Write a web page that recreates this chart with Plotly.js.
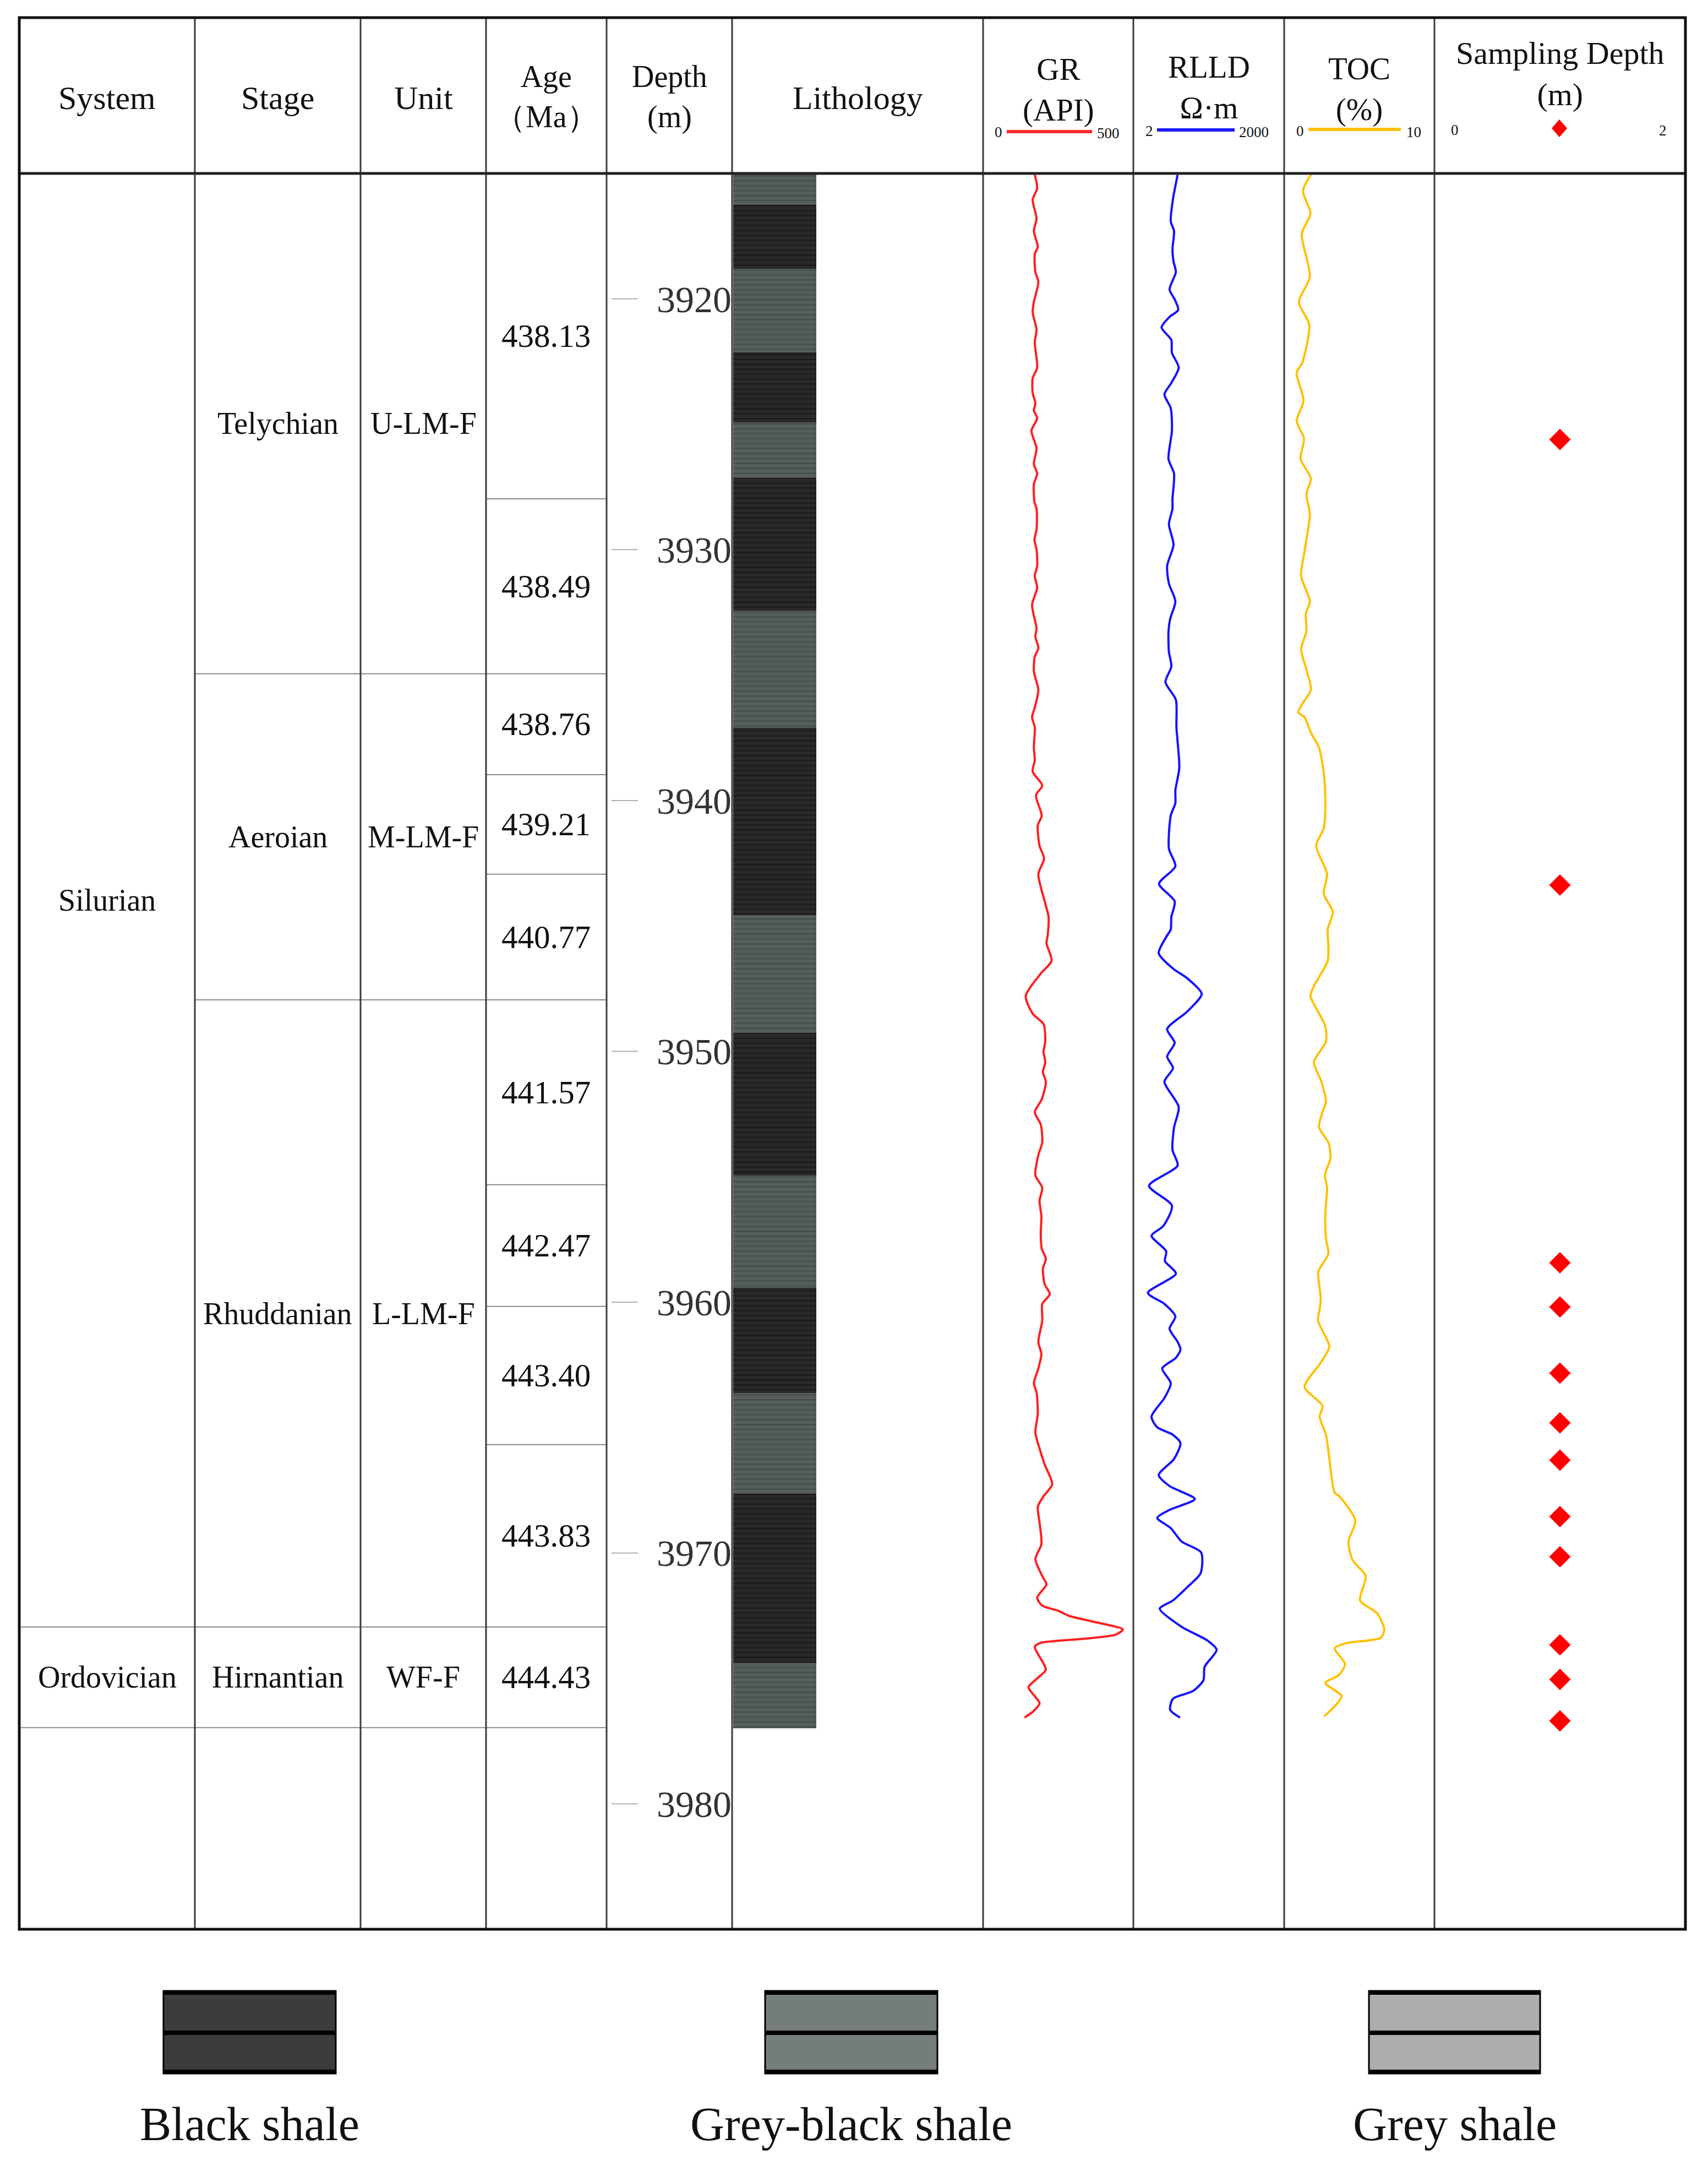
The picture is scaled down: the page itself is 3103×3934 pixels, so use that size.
<!DOCTYPE html>
<html><head><meta charset="utf-8">
<script src="https://cdn.plot.ly/plotly-3.0.1.min.js"></script>
<style>html,body{margin:0;padding:0;background:#fff}</style>
</head><body><div id="chart" style="width:3103px;height:3934px"></div>
<script>
// ---------------- DATA ----------------
const systems = ['Silurian', 'Ordovician'];
const systemTop = [3915, 3972.95];
const systemBase = [3972.95, 3976.96];

const stages = ['Telychian', 'Aeroian', 'Rhuddanian', 'Hirnantian'];
const units = ['U-LM-F', 'M-LM-F', 'L-LM-F', 'WF-F'];
const stageTop = [3915, 3934.95, 3947.95, 3972.95];
const stageBase = [3934.95, 3947.95, 3972.95, 3976.96];

const ages = ['438.13', '438.49', '438.76', '439.21', '440.77', '441.57', '442.47', '443.40', '443.83', '444.43'];
const ageTop = [3915, 3927.97, 3934.95, 3938.97, 3942.94, 3947.95, 3955.32, 3960.17, 3965.68, 3972.95];
const ageBase = [3927.97, 3934.95, 3938.97, 3942.94, 3947.95, 3955.32, 3960.17, 3965.68, 3972.95, 3976.96];

const depthTicks = [3920, 3930, 3940, 3950, 3960, 3970, 3980];

const lithTop = [3915.0, 3916.25, 3918.80, 3922.13, 3924.92, 3927.14, 3932.43, 3937.10, 3944.57, 3949.26, 3954.95, 3959.43, 3963.62, 3967.63, 3974.37];
const lithBase = [3916.25, 3918.80, 3922.13, 3924.92, 3927.14, 3932.43, 3937.10, 3944.57, 3949.26, 3954.95, 3959.43, 3963.62, 3967.63, 3974.37, 3976.98];
const lithType = ['Grey-black shale', 'Black shale', 'Grey-black shale', 'Black shale', 'Grey-black shale', 'Black shale', 'Grey-black shale', 'Black shale', 'Grey-black shale', 'Black shale', 'Grey-black shale', 'Black shale', 'Grey-black shale', 'Black shale', 'Grey-black shale'];

const legendNames = ['Black shale', 'Grey-black shale', 'Grey shale'];
const legendColors = ['#3c3c3c', '#747c7c', '#adadad'];

const grDepth = [3915.05, 3915.59, 3916.05, 3916.80, 3917.30, 3917.92, 3918.22, 3918.93, 3919.32, 3920.13, 3920.53, 3921.23, 3921.73, 3922.74, 3923.16, 3923.75, 3924.16, 3924.45, 3924.76, 3925.26, 3925.96, 3926.58, 3926.97, 3927.39, 3928.09, 3928.37, 3929.18, 3929.60, 3930.00,
  3930.65, 3931.05, 3931.51, 3932.21, 3933.15, 3933.46, 3933.92, 3934.27, 3934.86, 3935.59, 3936.29, 3936.68, 3937.08, 3937.89, 3938.39, 3938.85, 3939.40, 3939.79, 3940.60, 3941.00, 3941.81, 3942.31, 3942.93, 3944.02, 3944.64,
  3945.38, 3945.69, 3946.39, 3946.90, 3947.79, 3948.50, 3948.91, 3949.61, 3950.01, 3950.43, 3950.82, 3951.21, 3951.92, 3952.42, 3952.92, 3953.63, 3954.13, 3954.94, 3955.44, 3955.95, 3956.56, 3957.26, 3957.86, 3958.27, 3958.67, 3959.28, 3959.68, 3960.07,
  3960.73, 3961.58, 3962.07, 3962.64, 3963.23, 3963.60, 3964.45, 3965.20, 3965.84, 3966.47, 3967.26, 3967.74, 3968.16, 3968.79, 3969.65, 3970.24, 3970.92, 3971.25, 3971.78, 3972.09, 3972.30, 3972.51, 3972.73, 3973.05, 3973.26, 3973.42, 3973.58, 3973.74, 3974.65, 3974.98, 3975.35, 3975.61, 3975.99, 3976.29, 3976.56];
const grValue = [172, 180, 165, 178, 169, 182, 172, 174, 184, 169, 165, 178, 172, 180, 165, 165, 174, 169, 180, 161, 178, 169, 180, 169, 171, 178, 178, 171, 178,
  180, 172, 180, 163, 178, 174, 184, 172, 169, 184, 172, 163, 172, 169, 172, 165, 197, 176, 195, 182, 188, 203, 184, 205, 218,
  215, 211, 228, 192, 142, 165, 201, 207, 201, 207, 199, 209, 195, 172, 192, 197, 184, 174, 197, 188, 194, 192, 195, 209, 199, 205, 222, 197,
  197, 184, 194, 184, 169, 178, 182, 174, 188, 205, 230, 201, 182, 188, 194, 174, 197, 211, 180, 196, 249, 287, 364, 465, 440, 335, 192, 172, 209, 182, 151, 165, 188, 169, 138];

const rlldDepth = [3915.05, 3915.51, 3916.01, 3916.91, 3917.30, 3918.03, 3918.51, 3918.93, 3919.63, 3920.02, 3920.44, 3920.72, 3921.14, 3921.64, 3922.15, 3922.74, 3923.35, 3923.81, 3924.36, 3925.26, 3926.38, 3926.97, 3927.98, 3928.37, 3928.99, 3929.80,
  3930.65, 3931.35, 3932.06, 3932.76, 3933.26, 3934.07, 3934.66, 3935.28, 3935.98, 3937.08, 3938.70, 3939.60, 3940.10, 3940.60, 3941.92, 3942.62, 3943.32, 3944.02, 3944.64, 3945.14,
  3945.38, 3946.09, 3946.70, 3947.09, 3947.71, 3948.41, 3949.11, 3949.66, 3950.21, 3950.67, 3951.21, 3952.22, 3953.03, 3953.93, 3954.55, 3955.36, 3956.15, 3956.96, 3957.35, 3957.97, 3958.36, 3958.86, 3959.63, 3960.07, 3960.57,
  3961.06, 3961.58, 3961.89, 3962.22, 3962.64, 3963.23, 3963.82, 3964.56, 3964.98, 3965.29, 3965.62, 3966.25, 3966.89, 3967.33, 3967.85, 3968.27, 3968.60, 3969.01, 3969.54, 3969.98, 3970.81, 3971.36, 3971.89, 3972.22, 3972.94, 3973.49, 3973.86, 3974.54, 3975.07, 3975.50, 3975.81, 3976.25, 3976.56];
const rlldValue = [15.2, 13.7, 12.3, 11.1, 12.9, 12.0, 12.6, 14.0, 10.5, 13.3, 15.6, 10.5, 7.3, 11.4, 11.7, 16.0, 11.4, 8.3, 11.1, 11.7, 10.0, 12.9, 12.0, 12.0, 10.2, 12.6,
  9.4, 10.2, 13.7, 10.8, 10.0, 10.2, 11.4, 8.7, 14.0, 14.4, 16.4, 13.7, 13.7, 11.1, 10.2, 13.7, 6.5, 13.3, 11.4, 11.1,
  9.4, 6.4, 12.3, 23.7, 45.8, 23.7, 9.4, 13.3, 9.4, 12.3, 8.3, 16.0, 12.9, 12.0, 15.2, 4.1, 11.7, 7.9, 4.6, 9.0, 8.5, 14.0, 3.9, 8.3, 13.7,
  10.5, 15.2, 17.3, 14.0, 7.5, 11.1, 8.3, 4.6, 5.9, 12.3, 17.3, 12.9, 6.4, 10.5, 33.4, 10.8, 6.0, 11.1, 18.2, 44.6, 43.5, 23.7, 12.3, 6.7, 18.2, 59.6, 90.8, 52.2, 49.6, 30.9, 12.3, 10.8, 16.9];

const tocDepth = [3915.05, 3915.70, 3916.60, 3917.41, 3919.12, 3920.13, 3921.03, 3922.54, 3922.94, 3924.06, 3924.87, 3925.57, 3926.38, 3927.17, 3927.78, 3928.59, 3930.04,
  3931.05, 3932.06, 3932.56, 3933.26, 3933.96, 3934.86, 3935.59, 3936.07, 3936.48, 3936.68, 3937.30, 3937.89, 3939.09, 3940.30, 3941.11, 3941.81, 3942.93, 3943.72, 3944.44, 3945.14, 3945.82,
  3946.39, 3947.40, 3947.79, 3948.41, 3949.00, 3949.61, 3950.43, 3951.21, 3952.03, 3952.42, 3953.03, 3953.63, 3954.24, 3954.94, 3955.44, 3956.45, 3957.46, 3958.07, 3958.78, 3959.87, 3960.29,
  3960.73, 3961.36, 3961.78, 3962.44, 3963.38, 3964.13, 3964.56, 3965.29, 3966.25, 3967.33, 3967.63, 3967.74, 3968.71, 3969.54, 3970.28, 3970.92, 3971.89, 3972.41, 3973.05, 3973.38, 3973.60, 3973.80, 3974.43, 3974.87, 3975.18, 3975.70, 3976.04, 3976.51];
const tocValue = [1.78, 1.25, 1.75, 1.17, 1.71, 0.98, 1.67, 1.21, 0.83, 1.29, 0.83, 1.32, 1.09, 1.78, 1.48, 1.71, 1.36,
  1.13, 1.71, 1.44, 1.48, 1.13, 1.52, 1.78, 1.29, 0.94, 1.36, 1.78, 2.32, 2.67, 2.74, 2.63, 2.13, 2.86, 2.63, 3.24, 2.90, 2.94,
  2.90, 1.98, 1.75, 2.25, 2.74, 2.78, 1.98, 2.48, 2.78, 2.55, 2.32, 2.94, 3.09, 2.71, 2.86, 2.74, 2.78, 2.94, 2.28, 2.44, 2.36,
  2.25, 2.74, 3.01, 2.40, 1.36, 2.55, 2.36, 2.78, 3.01, 3.24, 3.40, 3.67, 4.74, 4.28, 4.55, 5.43, 5.05, 6.20, 6.66, 6.43, 4.09, 3.36, 4.05, 3.63, 2.74, 3.82, 3.47, 2.67];

const sampleDepth = [3925.61, 3943.37, 3958.43, 3960.19, 3962.83, 3964.81, 3966.30, 3968.55, 3970.15, 3973.66, 3975.04, 3976.69];

// ---------------- LAYOUT HELPERS ----------------
const W = 3103, H = 3934;
const px = v => v / W;
const py = v => 1 - v / H;
const SERIF = 'Liberation Serif, Times New Roman, serif';
const colX = [35, 354, 655, 883, 1102, 1330, 1786, 2059, 2333, 2606, 3062];
const TOP = 32, HEAD = 315, BOTTOM = 3504;

const shapes = [];
const annotations = [];

function ann(text, x, y, size, extra) {
  annotations.push(Object.assign({
    text: text, x: px(x), y: py(y), xref: 'paper', yref: 'paper',
    showarrow: false, xanchor: 'center', yanchor: 'middle',
    font: {family: SERIF, size: size, color: '#111'}
  }, extra || {}));
}
function bodyAnn(text, col, depth, size) {
  annotations.push({
    text: text, x: px((colX[col] + colX[col + 1]) / 2), y: depth, xref: 'paper', yref: 'y',
    showarrow: false, xanchor: 'center', yanchor: 'middle',
    font: {family: SERIF, size: size, color: '#111'}
  });
}
function cellLines(col, bases) {
  bases.forEach(b => shapes.push({type: 'line', xref: 'paper', yref: 'y',
    x0: px(colX[col]), x1: px(colX[col + 1]), y0: b, y1: b,
    line: {color: '#8a8a8a', width: 2}}));
}

// table cell separators
cellLines(0, systemBase);
cellLines(1, stageBase);
cellLines(2, stageBase);
cellLines(3, ageBase);

// vertical column lines
for (let i = 1; i < colX.length - 1; i++) {
  shapes.push({type: 'line', xref: 'paper', yref: 'paper', x0: px(colX[i]), x1: px(colX[i]),
    y0: py(TOP), y1: py(BOTTOM), line: {color: '#3a3a3a', width: 3}});
}
// header bottom and outer border
shapes.push({type: 'line', xref: 'paper', yref: 'paper', x0: px(colX[0]), x1: px(colX[10]),
  y0: py(HEAD), y1: py(HEAD), line: {color: '#222', width: 5}});
shapes.push({type: 'rect', xref: 'paper', yref: 'paper', x0: px(colX[0]), x1: px(colX[10]),
  y0: py(TOP), y1: py(BOTTOM), line: {color: '#111', width: 5}});

// depth tick dashes
depthTicks.forEach(t => shapes.push({type: 'line', xref: 'paper', yref: 'y', x0: px(1111), x1: px(1159),
  y0: t, y1: t, line: {color: '#b0b0b0', width: 2}}));

// body texts (centred in their cells)
systems.forEach((s, i) => bodyAnn(s, 0, (systemTop[i] + systemBase[i]) / 2, 56));
stages.forEach((s, i) => bodyAnn(s, 1, (stageTop[i] + stageBase[i]) / 2, 56));
units.forEach((s, i) => bodyAnn(s, 2, (stageTop[i] + stageBase[i]) / 2, 56));
ages.forEach((s, i) => bodyAnn(s, 3, (ageTop[i] + ageBase[i]) / 2, 59));

// header texts
const HF = 60;
ann('System', 194.5, 178, HF);
ann('Stage', 504.5, 178, HF);
ann('Unit', 769, 178, HF);
ann('Age<br>（Ma）', 992.5, 175, 56);
ann('Depth<br>(m)', 1216, 176, 56);
ann('Lithology', 1558, 178, HF);
ann('GR<br>(API)', 1922.5, 163, 57);
ann('RLLD<br>Ω·m', 2196, 158, 57);
ann('TOC<br>(%)', 2469.5, 162, 57);
ann('Sampling Depth<br>(m)', 2834, 134, 58);

// header scale keys
const SF = 27;
ann('0', 1814, 240, SF); ann('500', 2013, 242, SF);
shapes.push({type: 'line', xref: 'paper', yref: 'paper', x0: px(1829), x1: px(1984), y0: py(239), y1: py(239), line: {color: '#ff2a2a', width: 6}});
ann('2', 2088, 238, SF); ann('2000', 2278, 240, SF);
shapes.push({type: 'line', xref: 'paper', yref: 'paper', x0: px(2102), x1: px(2243), y0: py(236), y1: py(236), line: {color: '#1a1aff', width: 6}});
ann('0', 2362, 238, SF); ann('10', 2568, 240, SF);
shapes.push({type: 'line', xref: 'paper', yref: 'paper', x0: px(2377), x1: px(2545), y0: py(235), y1: py(235), line: {color: '#ffc000', width: 6}});
ann('0', 2643, 236, SF); ann('2', 3021, 237, SF);
(function () {
  const cx = 2833, cy = 233, hw = 14, hh = 16;
  shapes.push({type: 'path', xref: 'paper', yref: 'paper',
    path: `M ${px(cx - hw)} ${py(cy)} L ${px(cx)} ${py(cy - hh)} L ${px(cx + hw)} ${py(cy)} L ${px(cx)} ${py(cy + hh)} Z`,
    fillcolor: '#ff0000', line: {width: 0}});
})();

// bottom legend
const legX = [[297, 610], [1390, 1703], [2487, 2798]];
legendNames.forEach((name, i) => {
  const [a, b] = legX[i];
  shapes.push({type: 'rect', xref: 'paper', yref: 'paper', x0: px(a), x1: px(b), y0: py(3616), y1: py(3766),
    fillcolor: legendColors[i], line: {color: '#000', width: 3}});
  [3619, 3692, 3763].forEach(yy => shapes.push({type: 'line', xref: 'paper', yref: 'paper',
    x0: px(a), x1: px(b), y0: py(yy), y1: py(yy), line: {color: '#000', width: 8}}));
  ann(name, (a + b) / 2, 3858, 86);
});

// ---------------- TRACES ----------------
function lithTrace(type, color, fg) {
  const idx = lithType.map((t, i) => t === type ? i : -1).filter(i => i >= 0);
  return {
    type: 'bar', xaxis: 'x', yaxis: 'y',
    x: idx.map(() => 0.5), base: idx.map(i => lithTop[i]), y: idx.map(i => lithBase[i] - lithTop[i]),
    width: 1, hoverinfo: 'skip',
    marker: {color: color, line: {width: 0},
      pattern: {shape: '-', size: 9, solidity: 0.3, fgcolor: fg, fgopacity: 0.9, fillmode: 'overlay'}}
  };
}

const traces = [
  lithTrace('Black shale', '#292929', '#1a1a1a'),
  lithTrace('Grey-black shale', '#565d5d', '#464d4d'),
  {type: 'scatter', mode: 'lines', xaxis: 'x2', yaxis: 'y', x: grValue, y: grDepth,
    line: {color: '#ff1f1f', width: 4, shape: 'spline', smoothing: 0.7}, hoverinfo: 'skip'},
  {type: 'scatter', mode: 'lines', xaxis: 'x3', yaxis: 'y', x: rlldValue, y: rlldDepth,
    line: {color: '#1414ff', width: 4, shape: 'spline', smoothing: 0.7}, hoverinfo: 'skip'},
  {type: 'scatter', mode: 'lines', xaxis: 'x4', yaxis: 'y', x: tocValue, y: tocDepth,
    line: {color: '#ffc000', width: 4, shape: 'spline', smoothing: 0.7}, hoverinfo: 'skip'},
  {type: 'scatter', mode: 'markers', xaxis: 'x5', yaxis: 'y', x: sampleDepth.map(() => 1), y: sampleDepth,
    marker: {symbol: 'diamond', size: 30, color: '#ff0000', line: {width: 0}}, hoverinfo: 'skip'}
];

const hidden = {visible: false, anchor: 'y', fixedrange: true};
const layout = {
  width: W, height: H,
  margin: {l: 0, r: 0, t: 0, b: 0, pad: 0},
  paper_bgcolor: '#ffffff', plot_bgcolor: 'rgba(0,0,0,0)',
  showlegend: false, barmode: 'overlay', bargap: 0,
  font: {family: SERIF, color: '#111'},
  xaxis: Object.assign({domain: [px(1332), px(1483)], range: [0, 1]}, hidden),
  xaxis2: Object.assign({domain: [px(1786), px(2059)], range: [0, 500]}, hidden),
  xaxis3: Object.assign({domain: [px(2059), px(2333)], type: 'log', range: [Math.log10(2), Math.log10(2000)]}, hidden),
  xaxis4: Object.assign({domain: [px(2333), px(2606)], range: [0, 10]}, hidden),
  xaxis5: Object.assign({domain: [px(2606), px(3062)], range: [0, 2]}, hidden),
  yaxis: {
    domain: [py(BOTTOM), py(HEAD)], range: [3985, 3915], anchor: 'free', position: px(1329), side: 'left',
    tickmode: 'array', tickvals: depthTicks, ticktext: depthTicks.map(String),
    tickfont: {family: SERIF, size: 68, color: '#333'}, ticks: '', showgrid: false, zeroline: false, showline: false,
    fixedrange: true
  },
  shapes: shapes,
  annotations: annotations
};

Plotly.newPlot('chart', traces, layout, {staticPlot: true, displayModeBar: false});
</script></body></html>
